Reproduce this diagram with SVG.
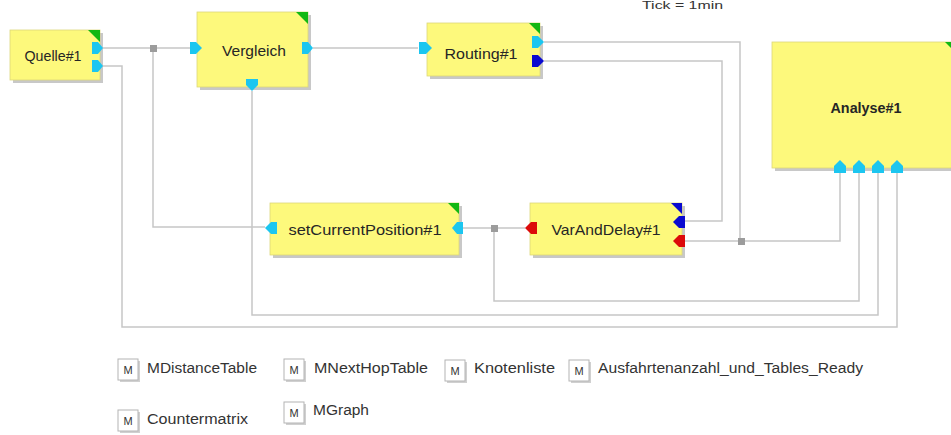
<svg xmlns="http://www.w3.org/2000/svg" width="951" height="435" viewBox="0 0 951 435">
<style>
.bg{fill:#ffffff}
.box{fill:#fdf97c;stroke:#dcd77c;stroke-width:0.8}
.sh{fill:#b5b5b5;opacity:0.75}
.lbl{font-family:"Liberation Sans",Arial,sans-serif;font-size:15px;fill:#262626;text-anchor:middle}
.bold{font-weight:bold;font-size:14px}
.wire{fill:none;stroke:#c6c6c6;stroke-width:1.5}
.cyan{fill:#1cc6f0}
.blue{fill:#0a0ad0}
.red{fill:#dc0a0a}
.corner{fill:#12b812}
.jn{fill:#9c9c9c}
.mbox{fill:#ffffff;stroke:#b4b4b4;stroke-width:1}
.msh{fill:#d0d0d0}
.mtxt{font-family:"Liberation Sans",Arial,sans-serif;font-size:11px;fill:#333;text-anchor:middle}
.ltxt{font-family:"Liberation Sans",Arial,sans-serif;font-size:14px;fill:#333}
.tick{font-family:"Liberation Sans",Arial,sans-serif;font-size:11px;fill:#333}
</style>
<rect class="bg" x="0" y="0" width="951" height="435"/>
<text class="tick" x="642" y="9" textLength="81" lengthAdjust="spacingAndGlyphs">Tick = 1min</text>

<g id="connectors">
<polyline class="wire" points="103,48 190,48"/>
<polyline class="wire" points="153,48 153,227 265,227"/>
<polyline class="wire" points="103,66 122,66 122,327 897,327 897,173"/>
<polyline class="wire" points="313,48 418,48"/>
<polyline class="wire" points="252,91 252,315 878,315 878,173"/>
<polyline class="wire" points="544,42 740,42 740,241"/>
<polyline class="wire" points="544,61 722,61 722,221 685,221"/>
<polyline class="wire" points="685,241 840,241 840,173"/>
<polyline class="wire" points="463,228 525,228"/>
<polyline class="wire" points="494,228 494,301 859,301 859,173"/>
<rect class="jn" x="150" y="45" width="7" height="7"/>
<rect class="jn" x="491" y="225" width="7" height="7"/>
<rect class="jn" x="738" y="238" width="7" height="7"/>
</g>

<g id="quelle">
<rect class="sh" x="13" y="33" width="90" height="50"/>
<rect class="box" x="10" y="30" width="90" height="50"/>
<polygon class="corner" points="88,30 100,30 100,42"/>
<polygon class="cyan" points="92,42 98,42 103,48 98,54 92,54"/>
<polygon class="cyan" points="92,60 98,60 103,66 98,72 92,72"/>
<text class="lbl" x="53" y="61" textLength="57" lengthAdjust="spacingAndGlyphs">Quelle#1</text>
</g>

<g id="vergleich">
<rect class="sh" x="200" y="15" width="111" height="75"/>
<rect class="box" x="197" y="12" width="111" height="75"/>
<polygon class="corner" points="296,12 308,12 308,24"/>
<polygon class="cyan" points="190,42 196,42 202,48 196,54 190,54"/>
<polygon class="cyan" points="302,42 308,42 313,48 308,54 302,54"/>
<polygon class="cyan" points="246,79 258,79 258,85 252,91 246,85"/>
<text class="lbl" x="254" y="56" textLength="64" lengthAdjust="spacingAndGlyphs">Vergleich</text>
</g>

<g id="routing">
<rect class="sh" x="430" y="26" width="113" height="53"/>
<rect class="box" x="427" y="23" width="113" height="53"/>
<polygon class="corner" points="529,23 540,23 540,34"/>
<polygon class="cyan" points="419,42 426,42 432,48 426,54 419,54"/>
<polygon class="cyan" points="532,36 538,36 544,42 538,48 532,48"/>
<polygon class="blue" points="532,55 538,55 544,61 538,67 532,67"/>
<text class="lbl" x="481" y="59" textLength="73" lengthAdjust="spacingAndGlyphs">Routing#1</text>
</g>

<g id="analyse">
<rect class="sh" x="775" y="45" width="185" height="126"/>
<rect class="box" x="772" y="42" width="185" height="126"/>
<polygon class="corner" points="945,42 957,42 957,54"/>
<polygon class="cyan" points="834,173 834,166 840,160 846,166 846,173"/>
<polygon class="cyan" points="853,173 853,166 859,160 865,166 865,173"/>
<polygon class="cyan" points="872,173 872,166 878,160 884,166 884,173"/>
<polygon class="cyan" points="891,173 891,166 897,160 903,166 903,173"/>
<text class="lbl bold" x="866" y="113" textLength="71" lengthAdjust="spacingAndGlyphs">Analyse#1</text>
</g>

<g id="setCurrentPosition">
<rect class="sh" x="273" y="206" width="189" height="52"/>
<rect class="box" x="270" y="203" width="189" height="52"/>
<polygon class="corner" points="448,203 459,203 459,214"/>
<polygon class="cyan" points="265,228 271,222 277,222 277,234 271,234"/>
<polygon class="cyan" points="452,228 457,222 463,222 463,234 457,234"/>
<text class="lbl" x="365" y="235" textLength="153" lengthAdjust="spacingAndGlyphs">setCurrentPosition#1</text>
</g>

<g id="varAndDelay">
<rect class="sh" x="533" y="206" width="152" height="52"/>
<rect class="box" x="530" y="203" width="152" height="52"/>
<polygon class="blue" points="671,203 682,203 682,214"/>
<polygon class="red" points="525,228 531,222 537,222 537,234 531,234"/>
<polygon class="blue" points="673,222 679,216 685,216 685,228 679,228"/>
<polygon class="red" points="673,241 679,235 685,235 685,247 679,247"/>
<text class="lbl" x="606" y="235" textLength="109" lengthAdjust="spacingAndGlyphs">VarAndDelay#1</text>
</g>

<g id="legend">
<rect class="msh" x="120" y="361" width="20" height="21"/>
<rect class="mbox" x="118" y="359" width="20" height="21"/>
<text class="mtxt" x="128" y="374">M</text>
<text class="ltxt" x="147" y="373" textLength="110" lengthAdjust="spacingAndGlyphs">MDistanceTable</text>

<rect class="msh" x="286" y="361" width="20" height="21"/>
<rect class="mbox" x="284" y="359" width="20" height="21"/>
<text class="mtxt" x="294" y="374">M</text>
<text class="ltxt" x="314" y="373" textLength="114" lengthAdjust="spacingAndGlyphs">MNextHopTable</text>

<rect class="msh" x="447" y="362" width="20" height="21"/>
<rect class="mbox" x="445" y="360" width="20" height="21"/>
<text class="mtxt" x="455" y="375">M</text>
<text class="ltxt" x="474" y="373" textLength="81" lengthAdjust="spacingAndGlyphs">Knotenliste</text>

<rect class="msh" x="571" y="362" width="20" height="21"/>
<rect class="mbox" x="569" y="360" width="20" height="21"/>
<text class="mtxt" x="579" y="375">M</text>
<text class="ltxt" x="598" y="373" textLength="265" lengthAdjust="spacingAndGlyphs">Ausfahrtenanzahl_und_Tables_Ready</text>

<rect class="msh" x="120" y="412" width="20" height="21"/>
<rect class="mbox" x="118" y="410" width="20" height="21"/>
<text class="mtxt" x="128" y="425">M</text>
<text class="ltxt" x="147" y="424" textLength="101" lengthAdjust="spacingAndGlyphs">Countermatrix</text>

<rect class="msh" x="286" y="404" width="20" height="21"/>
<rect class="mbox" x="284" y="402" width="20" height="21"/>
<text class="mtxt" x="294" y="417">M</text>
<text class="ltxt" x="313" y="415" textLength="56" lengthAdjust="spacingAndGlyphs">MGraph</text>
</g>
</svg>
